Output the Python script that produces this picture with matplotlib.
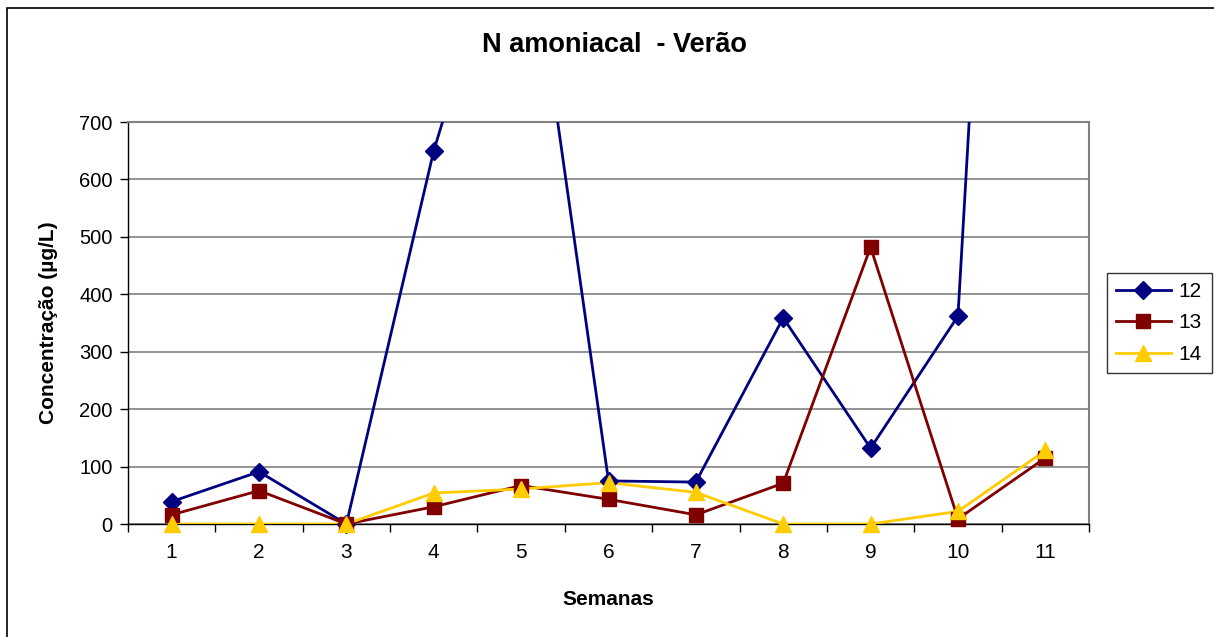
#!/usr/bin/env python3
"""N amoniacal - Verão: concentration per week for stations 12, 13, 14."""

import matplotlib
matplotlib.use("Agg")
import matplotlib.pyplot as plt
import numpy as np
from matplotlib.lines import Line2D
from matplotlib.patches import Rectangle

plt.rcParams["font.family"] = ["Liberation Sans", "DejaVu Sans"]

weeks = [1, 2, 3, 4, 5, 6, 7, 8, 9, 10, 11]
s12 = [39, 91, 0, 650, 1150, 75, 73, 359, 132, 362, 3000]
s13 = [16, 58, 0, 30, 67, 43, 16, 71, 482, 9, 115]
s14 = [0, 0, 0, 54, 61, 72, 55, 0, 0, 22, 128]
series_names = ["12", "13", "14"]
y_ticks = [0, 100, 200, 300, 400, 500, 600, 700]
Y_MAX = 700

W, H = 1214, 637
fig = plt.figure(figsize=(W / 100, H / 100), dpi=100)
ax = fig.add_axes([128 / W, 1 - 524 / H, (1089 - 128) / W, (524 - 122) / H])

styles = [
    (s12, "#000080", "D", 9),
    (s13, "#800000", "s", 10),
    (s14, "#FFCC00", "^", 11),
]
handles = []
for (vals, color, marker, ms), name in zip(styles, series_names):
    # line is clipped at the top of the plot area, markers are not
    ax.plot(weeks, vals, color=color, lw=2, zorder=3)
    shown = np.array(vals, dtype=float)
    shown[shown > Y_MAX] = np.nan
    ax.plot(weeks, shown, ls="none", marker=marker, markersize=ms,
            color=color, clip_on=False, zorder=4)
    handles.append(Line2D([], [], color=color, lw=2, marker=marker,
                          markersize=ms, label=name))

ax.set_xlim(0.5, 11.5)
ax.set_ylim(0, Y_MAX)
ax.set_yticks(y_ticks)
ax.set_xticks(weeks)
ax.set_xticks([w + 0.5 for w in [0] + weeks], minor=True)
ax.tick_params(axis="x", which="major", length=0, labelsize=15, pad=14)
ax.tick_params(axis="x", which="minor", length=6, width=1, direction="out")
ax.tick_params(axis="y", length=6, width=1, direction="out", labelsize=14.5, pad=5)
ax.grid(axis="y", color="#808080", lw=1.2)
ax.set_axisbelow(True)

for side in ("top", "right"):
    ax.spines[side].set_color("#808080")
    ax.spines[side].set_linewidth(1.5)
for side in ("left", "bottom"):
    ax.spines[side].set_color("black")
    ax.spines[side].set_linewidth(1)

ax.set_xlabel("Semanas", fontsize=15, fontweight="bold", labelpad=20)
ax.set_ylabel("Concentração (µg/L)", fontsize=15, fontweight="bold", labelpad=15)

fig.text(614 / W, 1 - 45 / H, "N amoniacal  - Verão", ha="center", va="center",
         fontsize=19.5, fontweight="bold")

leg = ax.legend(handles=handles, loc="center left",
                bbox_to_anchor=(1107 / W, 1 - 323 / H),
                bbox_transform=fig.transFigure, fontsize=15, frameon=True,
                fancybox=False, edgecolor="black", handlelength=2.6,
                borderpad=0.45, labelspacing=0.6, handletextpad=0.4,
                borderaxespad=0)
leg.get_frame().set_linewidth(1)

fig.patches.append(Rectangle((7 / W, -0.05), 1.1, 1 - 8 / H + 0.05,
                             transform=fig.transFigure, fill=False,
                             edgecolor="black", lw=1.2))

fig.savefig("out.png", dpi=100)
